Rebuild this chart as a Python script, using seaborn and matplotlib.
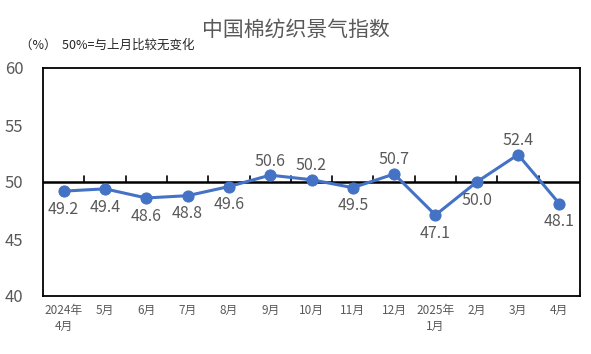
import matplotlib
matplotlib.use("Agg")
import matplotlib.pyplot as plt
import numpy as np
import pandas as pd
import seaborn as sns

months = ["2024年\n4月", "5月", "6月", "7月", "8月", "9月", "10月", "11月", "12月",
          "2025年\n1月", "2月", "3月", "4月"]
values = [49.2, 49.4, 48.6, 48.8, 49.6, 50.6, 50.2, 49.5, 50.7, 47.1, 50.0, 52.4, 48.1]
# where each value label sits relative to its point
label_pos = ["below", "below", "below", "below", "below", "above", "above", "below", "above",
             "below", "below", "above", "below"]

sns.set_style("white")
plt.rcParams["font.family"] = ["Noto Sans CJK SC", "DejaVu Sans"]

df = pd.DataFrame({"x": np.arange(len(values)), "value": values})

fig = plt.figure(figsize=(5.91, 3.54), dpi=100)
ax = fig.add_axes([43 / 591, 1 - 296 / 354, 537 / 591, 228 / 354])

sns.lineplot(data=df, x="x", y="value", ax=ax, color="#4472C4", linewidth=2.2,
             marker="o", markersize=8, markeredgecolor="#4472C4", zorder=5)

ax.set_xlim(-0.5, len(values) - 0.5)
ax.set_ylim(40, 60)
ax.set_yticks([40, 45, 50, 55, 60])
ax.tick_params(axis="y", labelsize=12, colors="#595959", length=0, pad=14)
ax.set_xticks(np.arange(len(values)))
ax.set_xticklabels(months, fontsize=8.5, color="#595959", linespacing=1.3)
ax.tick_params(axis="x", length=0, pad=6)
ax.set_xlabel("")
ax.set_ylabel("")
for s in ax.spines.values():
    s.set_color("black")
    s.set_linewidth(1.3)

# baseline at 50 with small tick marks between months
ax.axhline(50, color="black", linewidth=1.8, zorder=3)
for b in np.arange(0.5, len(values) - 1, 1.0):
    ax.plot([b, b], [50, 50.5], color="black", linewidth=1.2, zorder=3)

for i, (v, p) in enumerate(zip(values, label_pos)):
    if p == "above":
        ax.annotate(f"{v:.1f}", (i, v), xytext=(0, 4), textcoords="offset points",
                    ha="center", va="bottom", fontsize=11.5, color="#595959", zorder=6)
    else:
        ax.annotate(f"{v:.1f}", (i, v), xytext=(0, -7), textcoords="offset points",
                    ha="center", va="top", fontsize=11.5, color="#595959", zorder=6)

fig.text(296 / 591, 1 - 30 / 354, "中国棉纺织景气指数", ha="center", va="center",
         fontsize=15, color="#595959")
fig.text(20 / 591, 1 - 45 / 354, "（%）  50%=与上月比较无变化", ha="left", va="center",
         fontsize=9, color="#262626")

fig.savefig("out.png", dpi=100)
